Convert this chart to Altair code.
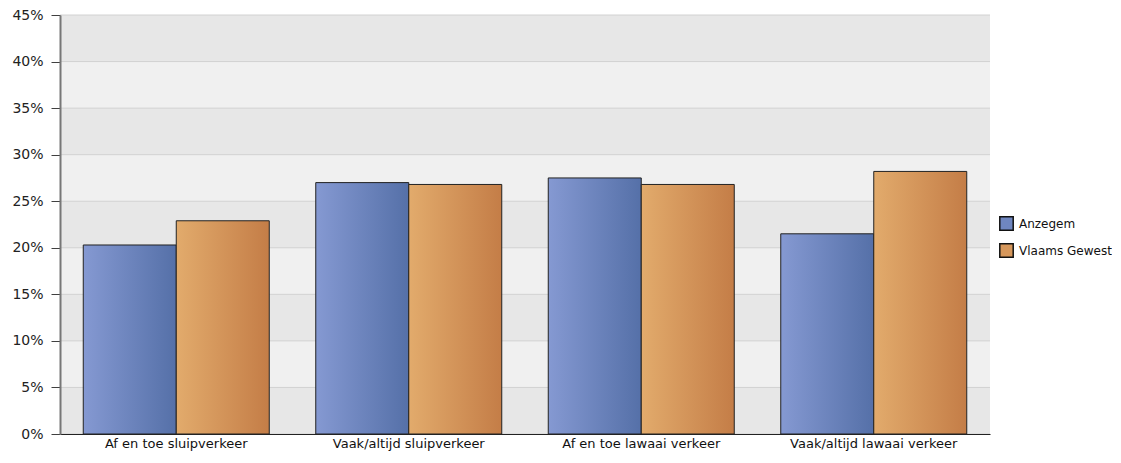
import altair as alt
import pandas as pd

categories = ["Af en toe sluipverkeer", "Vaak/altijd sluipverkeer", "Af en toe lawaai verkeer", "Vaak/altijd lawaai verkeer"]
series = ["Anzegem", "Vlaams Gewest"]
anzegem = [20.3, 27.0, 27.5, 21.5]
vlaams = [22.9, 26.8, 26.8, 28.2]
band_low = [0, 10, 20, 30, 40]
band_high = [5, 15, 25, 35, 45]
y_ticks = [0, 5, 10, 15, 20, 25, 30, 35, 40, 45]

rows = []
for c, a, v in zip(categories, anzegem, vlaams):
    rows.append({"cat": c, "serie": series[0], "val": a / 100})
    rows.append({"cat": c, "serie": series[1], "val": v / 100})
df = pd.DataFrame(rows)
bands = pd.DataFrame({"lo": [b / 100 for b in band_low], "hi": [b / 100 for b in band_high]})
grid = pd.DataFrame({"t": [t / 100 for t in y_ticks]})

FONT = "DejaVu Sans"
W, H = 930, 419
yscale = alt.Scale(domain=[0, 0.45], nice=False, zero=True)
xscale = alt.Scale(domain=categories, paddingInner=0.2, paddingOuter=0.1)

yaxis = alt.Axis(values=[t / 100 for t in y_ticks], format=".0%", title=None, zindex=2)
xaxis = alt.Axis(title=None, labelAngle=0, zindex=2)

X = alt.X("cat:N", scale=xscale, sort=categories, axis=xaxis)

band_layer = alt.Chart(bands).mark_rect(fill="#e7e7e7").encode(
    y=alt.Y("lo:Q", scale=yscale, axis=yaxis),
    y2="hi:Q",
    x=alt.value(0),
    x2=alt.value(W),
)

grid_layer = alt.Chart(grid).mark_rule(color="#d2d2d2", strokeWidth=1).encode(
    y=alt.Y("t:Q", scale=yscale, axis=yaxis),
    x=alt.value(0),
    x2=alt.value(W),
)

grad_blue = alt.Gradient(gradient="linear", x1=0, x2=1, y1=0, y2=0,
                         stops=[alt.GradientStop(color="#8599d2", offset=0),
                                alt.GradientStop(color="#5570a8", offset=1)])
grad_orange = alt.Gradient(gradient="linear", x1=0, x2=1, y1=0, y2=0,
                           stops=[alt.GradientStop(color="#e2ab6c", offset=0),
                                  alt.GradientStop(color="#c47d47", offset=1)])

def bar_layer(name, grad):
    return alt.Chart(df).transform_filter(alt.datum.serie == name).mark_bar(
        fill=grad, stroke="#222", strokeWidth=1
    ).encode(
        x=X,
        xOffset=alt.XOffset("serie:N", scale=alt.Scale(domain=series, paddingInner=0, paddingOuter=0)),
        y=alt.Y("val:Q", scale=yscale, axis=yaxis),
    )

legend_layer = alt.Chart(df).mark_square(opacity=0, size=1).encode(
    x=X,
    y=alt.Y("val:Q", scale=yscale, axis=yaxis),
    color=alt.Color("serie:N", scale=alt.Scale(domain=series, range=["#6f86c0", "#d6975b"]),
                    legend=alt.Legend(title=None, orient="none", legendX=939, legendY=201,
                                      symbolType="square", symbolSize=180, symbolOpacity=1,
                                      symbolStrokeColor="#111", symbolStrokeWidth=1.5,
                                      labelFont=FONT, labelFontSize=12, labelColor="#111",
                                      rowPadding=6, padding=0, labelOffset=5)),
)

chart = alt.layer(band_layer, grid_layer, bar_layer(series[0], grad_blue), bar_layer(series[1], grad_orange), legend_layer).properties(
    width=W, height=H,
    autosize=alt.AutoSizeParams(type="none"),
    padding={"left": 52, "top": 7, "right": 122, "bottom": 19},
    background="white",
).configure_view(fill="#f0f0f0", stroke=None).configure_axisY(
    grid=False,
    domainColor="#777777", domainWidth=2, tickColor="#404040", tickSize=9,
    labelPadding=8, labelFont=FONT, labelFontSize=14, labelColor="#222",
).configure_axisX(
    ticks=False, labelPadding=3, labelFont=FONT, labelFontSize=13, labelColor="#111",
    domainColor="#222", domainWidth=1.2, grid=False,
)

chart.save("out.html", embed_options={"renderer": "svg", "actions": False})
